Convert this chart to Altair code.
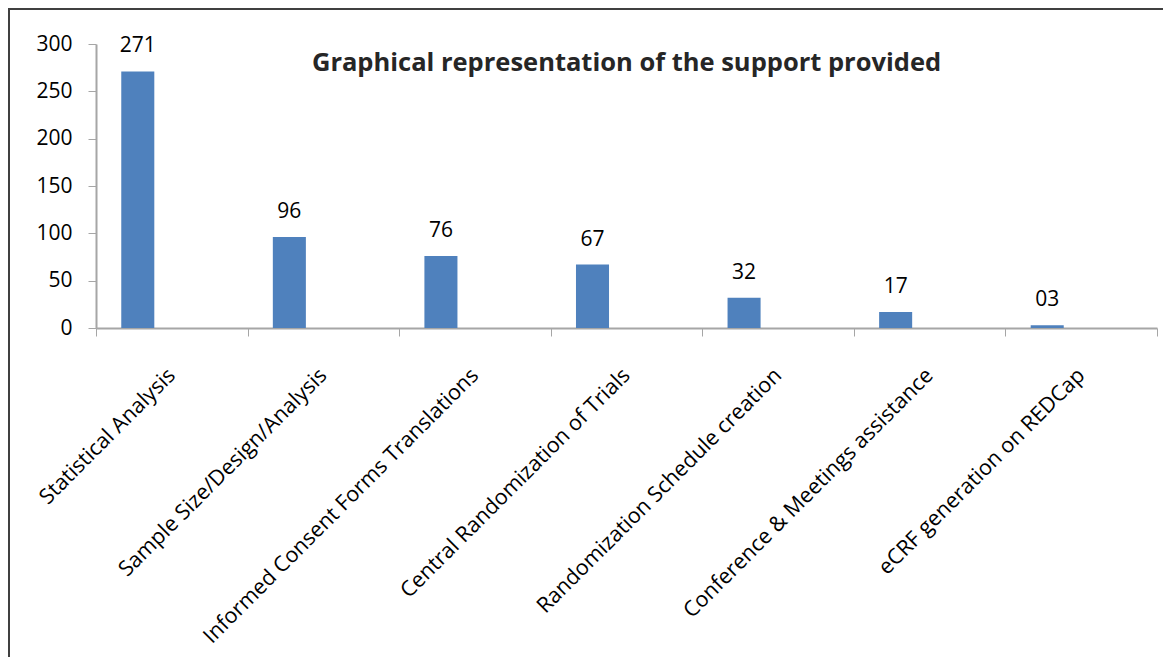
import altair as alt
import pandas as pd

categories = [
    "Statistical Analysis",
    "Sample Size/Design/Analysis",
    "Informed Consent Forms Translations",
    "Central Randomization of Trials",
    "Randomization Schedule creation",
    "Conference & Meetings assistance",
    "eCRF generation on REDCap",
]
values = [271, 96, 76, 67, 32, 17, 3]
value_labels = ["271", "96", "76", "67", "32", "17", "03"]

df = pd.DataFrame({"cat": categories, "value": values, "label": value_labels})

W, H = 1061, 284
FONT = "Open Sans"
AXIS_GRAY = "#A6A6A6"

x = alt.X("cat:N", sort=categories, title=None,
          scale=alt.Scale(paddingInner=0, paddingOuter=0),
          axis=alt.Axis(labelAngle=-45, labelAlign="right", labelBaseline="middle",
                        labelFont=FONT, labelFontSize=21.5, labelColor="#000000",
                        labelPadding=36, tickBand="extent", tickSize=8,
                        tickColor=AXIS_GRAY, domainColor=AXIS_GRAY, domainWidth=2,
                        labelLimit=600))
y = alt.Y("value:Q", title=None,
          scale=alt.Scale(domain=[0, 300], nice=False),
          axis=alt.Axis(values=[0, 50, 100, 150, 200, 250, 300], grid=False,
                        labelFont=FONT, labelFontSize=21, labelColor="#000000",
                        labelPadding=16, tickSize=8, tickColor=AXIS_GRAY,
                        domainColor=AXIS_GRAY, domainWidth=2))

bars = alt.Chart(df).mark_bar(color="#4F81BD", width=alt.RelativeBandSize(0.218),
                              xOffset=-34).encode(x=x, y=y)
text = alt.Chart(df).mark_text(font=FONT, fontSize=21, color="#000000", dx=-34, dy=-25,
                               baseline="middle").encode(x=x, y=y, text="label:N")

frame = alt.Chart(df).mark_rect(fill=None, stroke="#404040", strokeWidth=2).encode(
    x=alt.value(-87), x2=alt.value(W + 200), y=alt.value(-35), y2=alt.value(H + 600))

chart = alt.layer(frame, bars, text).properties(
    width=W, height=H,
    autosize=alt.AutoSizeParams(type="none"),
    padding={"left": 88, "top": 36, "right": 6, "bottom": 345},
    title=alt.TitleParams("Graphical representation of the support provided",
                          font=FONT, fontSize=25.5, fontWeight="bold", color="#262626",
                          anchor="middle", baseline="middle", dy=80, offset=0),
).configure_view(stroke=None)

chart.save("out.html", embed_options={"renderer": "svg", "actions": False})
